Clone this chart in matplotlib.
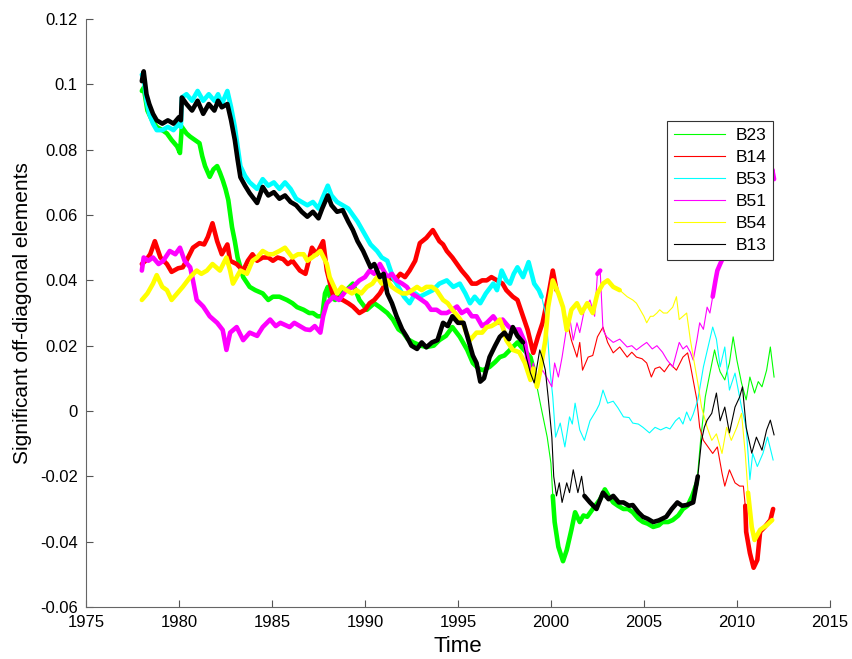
import numpy as np
import matplotlib
matplotlib.use("Agg")
import matplotlib.pyplot as plt
from matplotlib.ticker import FuncFormatter

plt.rcParams["font.family"] = ["Liberation Sans", "DejaVu Sans"]
plt.rcParams["axes.unicode_minus"] = False

# (year, value), one list per coefficient
b23 = [(1978.0, 0.098), (1978.1, 0.099), (1978.3, 0.092), (1978.55, 0.089), (1978.8, 0.087),
       (1979.1, 0.086), (1979.35, 0.085), (1979.6, 0.083), (1979.9, 0.081), (1980.05, 0.079),
       (1980.15, 0.087), (1980.4, 0.085), (1980.6, 0.084), (1980.85, 0.083), (1981.1, 0.082),
       (1981.25, 0.078), (1981.4, 0.075), (1981.65, 0.0717), (1981.85, 0.074), (1982.05, 0.075),
       (1982.2, 0.073), (1982.35, 0.0707), (1982.5, 0.068), (1982.65, 0.0646), (1982.85, 0.0563),
       (1983.0, 0.052), (1983.15, 0.047), (1983.3, 0.044), (1983.45, 0.041), (1983.8, 0.038),
       (1984.1, 0.037), (1984.5, 0.036), (1984.8, 0.034), (1985.05, 0.035), (1985.4, 0.035),
       (1985.8, 0.034), (1986.1, 0.033), (1986.35, 0.0318), (1986.7, 0.031), (1987.0, 0.030),
       (1987.2, 0.030), (1987.45, 0.029), (1987.7, 0.029), (1987.85, 0.036), (1988.0, 0.038),
       (1988.1, 0.035), (1988.4, 0.034), (1988.65, 0.036), (1989.0, 0.037), (1989.35, 0.039),
       (1989.7, 0.034), (1990.1, 0.031), (1990.5, 0.033), (1990.8, 0.0318), (1991.2, 0.030),
       (1991.5, 0.028), (1991.8, 0.025), (1992.05, 0.024), (1992.3, 0.022), (1992.6, 0.021),
       (1993.0, 0.020), (1993.3, 0.0196), (1993.7, 0.020), (1994.0, 0.0217), (1994.35, 0.023),
       (1994.7, 0.0257), (1995.1, 0.0227), (1995.5, 0.0187), (1995.8, 0.0147), (1996.1, 0.013),
       (1996.35, 0.0125), (1996.7, 0.0135), (1997.0, 0.015), (1997.25, 0.0165), (1997.5, 0.017),
       (1997.8, 0.0187), (1998.2, 0.021), (1998.5, 0.019), (1998.9, 0.0165), (1999.1, 0.012),
       (1999.25, 0.0074), (1999.5, 0.0003), (1999.8, -0.008), (2000.0, -0.016), (2000.1, -0.026),
       (2000.2, -0.034), (2000.4, -0.0416), (2000.65, -0.046), (2000.85, -0.0426), (2001.1, -0.0364),
       (2001.3, -0.031), (2001.55, -0.034), (2001.75, -0.032), (2001.95, -0.0324), (2002.25, -0.030),
       (2002.65, -0.027), (2002.9, -0.024), (2003.1, -0.026), (2003.35, -0.028), (2003.6, -0.029),
       (2003.9, -0.030), (2004.15, -0.030), (2004.4, -0.031), (2004.7, -0.033), (2004.95, -0.034),
       (2005.2, -0.0345), (2005.5, -0.0355), (2005.8, -0.035), (2006.0, -0.034), (2006.3, -0.034),
       (2006.55, -0.0334), (2006.85, -0.032), (2007.1, -0.030), (2007.35, -0.029), (2007.6, -0.026),
       (2007.85, -0.022), (2008.05, -0.009), (2008.3, 0.0043), (2008.55, 0.0116), (2008.8, 0.0187),
       (2008.95, 0.015), (2009.1, 0.012), (2009.35, 0.0095), (2009.6, 0.0147), (2009.8, 0.0227),
       (2010.0, 0.0156), (2010.25, 0.0086), (2010.5, 0.0034), (2010.7, 0.0104), (2010.95, 0.0055),
       (2011.15, 0.009), (2011.35, 0.0074), (2011.6, 0.0125), (2011.8, 0.0196), (2012.0, 0.0104)]

b14 = [(1978.0, 0.045), (1978.2, 0.046), (1978.45, 0.048), (1978.7, 0.052), (1979.0, 0.047),
       (1979.35, 0.045), (1979.6, 0.0426), (1979.95, 0.0437), (1980.2, 0.044), (1980.4, 0.046),
       (1980.75, 0.050), (1981.1, 0.0514), (1981.35, 0.051), (1981.55, 0.0533), (1981.8, 0.0575),
       (1982.05, 0.052), (1982.3, 0.048), (1982.6, 0.051), (1982.75, 0.046), (1983.1, 0.045),
       (1983.45, 0.043), (1983.7, 0.046), (1983.95, 0.048), (1984.2, 0.046), (1984.5, 0.047),
       (1984.8, 0.047), (1985.05, 0.046), (1985.3, 0.047), (1985.6, 0.0465), (1985.85, 0.045),
       (1986.1, 0.046), (1986.5, 0.043), (1986.8, 0.042), (1987.15, 0.050), (1987.4, 0.048),
       (1987.75, 0.052), (1987.95, 0.043), (1988.3, 0.035), (1988.8, 0.034), (1989.1, 0.033),
       (1989.35, 0.032), (1989.7, 0.030), (1990.0, 0.031), (1990.25, 0.033), (1990.5, 0.034),
       (1990.8, 0.036), (1991.1, 0.039), (1991.35, 0.041), (1991.6, 0.040), (1991.9, 0.042),
       (1992.15, 0.041), (1992.4, 0.043), (1992.7, 0.046), (1992.95, 0.0514), (1993.3, 0.053),
       (1993.65, 0.0554), (1994.0, 0.052), (1994.2, 0.051), (1994.4, 0.049), (1994.7, 0.047),
       (1994.95, 0.045), (1995.2, 0.043), (1995.5, 0.041), (1995.75, 0.039), (1996.0, 0.039),
       (1996.3, 0.040), (1996.55, 0.040), (1996.8, 0.041), (1997.1, 0.040), (1997.4, 0.039),
       (1997.6, 0.037), (1997.95, 0.035), (1998.2, 0.034), (1998.5, 0.029), (1998.75, 0.0248),
       (1999.05, 0.0178), (1999.3, 0.0227), (1999.55, 0.027), (1999.85, 0.035), (2000.1, 0.043),
       (2000.3, 0.037), (2000.6, 0.0318), (2000.85, 0.028), (2001.1, 0.0217), (2001.4, 0.0165),
       (2001.55, 0.021), (2001.7, 0.0125), (2002.0, 0.0165), (2002.25, 0.017), (2002.5, 0.0227),
       (2002.8, 0.0257), (2003.05, 0.021), (2003.35, 0.0178), (2003.7, 0.0196), (2004.1, 0.0165),
       (2004.35, 0.018), (2004.6, 0.0165), (2004.9, 0.016), (2005.15, 0.0147), (2005.4, 0.0104),
       (2005.6, 0.013), (2005.85, 0.0135), (2006.1, 0.012), (2006.4, 0.0145), (2006.75, 0.0125),
       (2007.1, 0.0165), (2007.35, 0.0178), (2007.5, 0.014), (2007.65, 0.0095), (2007.85, 0.0034),
       (2008.0, -0.005), (2008.2, -0.009), (2008.45, -0.011), (2008.7, -0.013), (2008.95, -0.011),
       (2009.2, -0.019), (2009.35, -0.023), (2009.6, -0.018), (2009.9, -0.022), (2010.15, -0.023),
       (2010.35, -0.023), (2010.45, -0.029), (2010.5, -0.037), (2010.7, -0.0435), (2010.9, -0.048),
       (2011.1, -0.0456), (2011.25, -0.037), (2011.5, -0.0355), (2011.8, -0.0334), (2011.95, -0.030)]

b53 = [(1978.0, 0.103), (1978.1, 0.102), (1978.25, 0.095), (1978.4, 0.091), (1978.6, 0.088),
       (1978.8, 0.086), (1979.1, 0.086), (1979.4, 0.087), (1979.7, 0.086), (1980.0, 0.088),
       (1980.1, 0.087), (1980.15, 0.096), (1980.4, 0.097), (1980.7, 0.095), (1981.0, 0.098),
       (1981.3, 0.095), (1981.6, 0.097), (1981.9, 0.095), (1982.1, 0.097), (1982.3, 0.094),
       (1982.6, 0.098), (1982.8, 0.093), (1983.0, 0.087), (1983.15, 0.081), (1983.3, 0.075),
       (1983.55, 0.072), (1983.8, 0.070), (1984.2, 0.068), (1984.5, 0.071), (1984.8, 0.069),
       (1985.1, 0.070), (1985.4, 0.068), (1985.7, 0.070), (1986.0, 0.068), (1986.3, 0.065),
       (1986.6, 0.064), (1986.9, 0.063), (1987.2, 0.064), (1987.5, 0.062), (1987.7, 0.065),
       (1988.0, 0.069), (1988.2, 0.066), (1988.5, 0.064), (1988.8, 0.063), (1989.1, 0.062),
       (1989.35, 0.060), (1989.6, 0.058), (1989.9, 0.055), (1990.3, 0.051), (1990.65, 0.049),
       (1990.9, 0.047), (1991.2, 0.046), (1991.5, 0.041), (1991.9, 0.037), (1992.1, 0.035),
       (1992.4, 0.033), (1992.7, 0.036), (1992.95, 0.035), (1993.3, 0.036), (1993.65, 0.037),
       (1994.0, 0.039), (1994.4, 0.040), (1994.75, 0.038), (1995.1, 0.039), (1995.4, 0.036),
       (1995.65, 0.033), (1995.9, 0.035), (1996.2, 0.033), (1996.5, 0.036), (1996.9, 0.039),
       (1997.1, 0.037), (1997.35, 0.043), (1997.6, 0.040), (1997.8, 0.039), (1998.0, 0.042),
       (1998.2, 0.044), (1998.5, 0.041), (1998.8, 0.0456), (1999.1, 0.039), (1999.35, 0.037),
       (1999.5, 0.035), (1999.7, 0.030), (1999.8, 0.0248), (1999.95, 0.0125), (2000.1, 0.0043),
       (2000.25, -0.008), (2000.5, -0.0037), (2000.75, -0.011), (2001.0, -0.0018), (2001.15, -0.004),
       (2001.3, 0.0024), (2001.55, -0.0058), (2001.8, -0.009), (2002.1, -0.003), (2002.45, 0.0003),
       (2002.6, 0.002), (2002.8, 0.0064), (2003.05, 0.0024), (2003.35, 0.003), (2003.6, 0.001),
       (2003.9, -0.0018), (2004.2, -0.002), (2004.4, -0.0037), (2004.7, -0.004), (2004.95, -0.005),
       (2005.3, -0.0067), (2005.6, -0.005), (2005.9, -0.0058), (2006.2, -0.005), (2006.4, -0.0055),
       (2006.7, -0.003), (2006.9, -0.002), (2007.1, -0.004), (2007.3, -0.0003), (2007.5, -0.003),
       (2007.65, -0.001), (2007.9, 0.0034), (2008.2, 0.0135), (2008.45, 0.0196), (2008.7, 0.0257),
       (2008.9, 0.022), (2009.1, 0.0135), (2009.35, 0.0196), (2009.6, 0.0064), (2009.9, 0.0116),
       (2010.25, 0.0012), (2010.5, -0.005), (2010.7, -0.021), (2010.85, -0.013), (2011.1, -0.017),
       (2011.4, -0.013), (2011.65, -0.008), (2011.95, -0.015)]

b51 = [(1978.0, 0.043), (1978.1, 0.047), (1978.35, 0.046), (1978.6, 0.047), (1978.9, 0.045),
       (1979.15, 0.046), (1979.5, 0.049), (1979.8, 0.048), (1980.05, 0.050), (1980.3, 0.046),
       (1980.6, 0.044), (1980.75, 0.040), (1980.95, 0.034), (1981.3, 0.032), (1981.65, 0.029),
       (1982.05, 0.027), (1982.35, 0.0248), (1982.55, 0.0187), (1982.75, 0.024), (1983.1, 0.0257),
       (1983.45, 0.0217), (1983.8, 0.024), (1984.2, 0.023), (1984.5, 0.0257), (1984.9, 0.028),
       (1985.2, 0.026), (1985.45, 0.027), (1985.95, 0.0257), (1986.2, 0.027), (1986.5, 0.026),
       (1986.8, 0.025), (1987.05, 0.0248), (1987.3, 0.026), (1987.6, 0.024), (1987.75, 0.029),
       (1987.95, 0.033), (1988.3, 0.035), (1988.6, 0.034), (1989.0, 0.037), (1989.35, 0.038),
       (1989.7, 0.040), (1990.0, 0.041), (1990.25, 0.043), (1990.5, 0.042), (1990.8, 0.045),
       (1991.0, 0.043), (1991.2, 0.041), (1991.45, 0.042), (1991.7, 0.040), (1992.0, 0.039),
       (1992.25, 0.038), (1992.5, 0.036), (1992.8, 0.035), (1993.05, 0.034), (1993.3, 0.033),
       (1993.55, 0.031), (1993.85, 0.031), (1994.1, 0.030), (1994.4, 0.030), (1994.7, 0.031),
       (1994.95, 0.032), (1995.2, 0.030), (1995.5, 0.031), (1995.75, 0.029), (1996.0, 0.029),
       (1996.3, 0.026), (1996.55, 0.027), (1996.9, 0.029), (1997.15, 0.027), (1997.4, 0.028),
       (1997.7, 0.026), (1997.95, 0.0248), (1998.3, 0.025), (1998.6, 0.021), (1998.9, 0.0104),
       (1999.05, 0.0147), (1999.3, 0.0095), (1999.55, 0.0125), (1999.85, 0.0095), (2000.05, 0.0074),
       (2000.2, 0.0147), (2000.4, 0.0104), (2000.6, 0.0165), (2000.85, 0.0257), (2001.0, 0.029),
       (2001.2, 0.0217), (2001.4, 0.027), (2001.55, 0.024), (2001.8, 0.031), (2002.1, 0.034),
       (2002.35, 0.029), (2002.5, 0.042), (2002.65, 0.043), (2002.8, 0.0248), (2003.0, 0.0227),
       (2003.35, 0.021), (2003.7, 0.022), (2004.1, 0.0196), (2004.35, 0.020), (2004.6, 0.0187),
       (2004.9, 0.020), (2005.15, 0.021), (2005.45, 0.019), (2005.7, 0.020), (2006.0, 0.018),
       (2006.25, 0.0156), (2006.55, 0.0135), (2006.9, 0.021), (2007.1, 0.019), (2007.3, 0.020),
       (2007.5, 0.018), (2007.65, 0.0156), (2007.85, 0.0217), (2008.0, 0.027), (2008.2, 0.025),
       (2008.4, 0.0318), (2008.55, 0.030), (2008.7, 0.035), (2008.85, 0.040), (2008.95, 0.043),
       (2009.1, 0.045), (2009.5, 0.050), (2010.0, 0.055), (2010.5, 0.060), (2011.0, 0.063),
       (2011.5, 0.066), (2011.8, 0.068), (2011.9, 0.074), (2012.0, 0.071)]

b54 = [(1978.0, 0.034), (1978.3, 0.036), (1978.6, 0.039), (1978.8, 0.0416), (1979.1, 0.038),
       (1979.35, 0.037), (1979.6, 0.034), (1979.9, 0.036), (1980.2, 0.038), (1980.6, 0.041),
       (1980.95, 0.043), (1981.2, 0.042), (1981.5, 0.043), (1981.8, 0.045), (1982.2, 0.043),
       (1982.55, 0.047), (1982.75, 0.043), (1982.9, 0.039), (1983.3, 0.043), (1983.65, 0.042),
       (1983.95, 0.046), (1984.2, 0.047), (1984.5, 0.049), (1984.8, 0.048), (1985.05, 0.048),
       (1985.4, 0.049), (1985.7, 0.050), (1986.1, 0.047), (1986.4, 0.048), (1986.7, 0.048),
       (1986.9, 0.046), (1987.15, 0.047), (1987.4, 0.048), (1987.6, 0.049), (1987.95, 0.045),
       (1988.1, 0.041), (1988.5, 0.036), (1988.75, 0.038), (1989.0, 0.037), (1989.3, 0.036),
       (1989.55, 0.037), (1989.8, 0.036), (1990.1, 0.038), (1990.4, 0.039), (1990.65, 0.041),
       (1990.9, 0.039), (1991.2, 0.040), (1991.45, 0.038), (1991.7, 0.037), (1992.0, 0.036),
       (1992.25, 0.036), (1992.55, 0.037), (1992.8, 0.038), (1993.05, 0.037), (1993.3, 0.038),
       (1993.6, 0.038), (1993.85, 0.037), (1994.2, 0.034), (1994.45, 0.033), (1994.7, 0.031),
       (1995.0, 0.029), (1995.25, 0.027), (1995.45, 0.024), (1995.65, 0.0217), (1996.0, 0.024),
       (1996.3, 0.024), (1996.55, 0.0257), (1996.8, 0.026), (1997.1, 0.027), (1997.25, 0.028),
       (1997.45, 0.025), (1997.6, 0.0217), (1997.95, 0.0187), (1998.3, 0.018), (1998.6, 0.0147),
       (1998.9, 0.0095), (1999.05, 0.013), (1999.25, 0.0074), (1999.4, 0.0116), (1999.7, 0.0217),
       (1999.85, 0.0318), (2000.1, 0.040), (2000.4, 0.036), (2000.65, 0.0318), (2000.85, 0.0248),
       (2001.1, 0.031), (2001.4, 0.033), (2001.65, 0.030), (2001.95, 0.033), (2002.25, 0.030),
       (2002.5, 0.036), (2002.8, 0.039), (2003.05, 0.040), (2003.35, 0.038), (2003.7, 0.037),
       (2004.1, 0.035), (2004.4, 0.034), (2004.6, 0.033), (2004.8, 0.031), (2005.0, 0.029),
       (2005.15, 0.027), (2005.35, 0.029), (2005.5, 0.029), (2005.7, 0.030), (2005.85, 0.031),
       (2006.05, 0.030), (2006.25, 0.030), (2006.55, 0.0318), (2006.75, 0.035), (2006.9, 0.028),
       (2007.1, 0.029), (2007.3, 0.030), (2007.5, 0.0217), (2007.75, 0.0135), (2007.9, 0.0086),
       (2008.1, 0.0012), (2008.4, -0.005), (2008.65, -0.009), (2008.9, -0.007), (2009.2, -0.013),
       (2009.45, -0.005), (2009.7, -0.009), (2010.0, -0.005), (2010.25, -0.0007), (2010.45, -0.013),
       (2010.6, -0.025), (2010.8, -0.0355), (2010.95, -0.0395), (2011.25, -0.0364), (2011.6, -0.035),
       (2011.9, -0.0334)]

b13 = [(1978.0, 0.101), (1978.1, 0.104), (1978.25, 0.097), (1978.4, 0.094), (1978.6, 0.091),
       (1978.8, 0.089), (1979.1, 0.088), (1979.4, 0.089), (1979.7, 0.088), (1980.0, 0.090),
       (1980.1, 0.089), (1980.15, 0.096), (1980.4, 0.094), (1980.7, 0.092), (1981.0, 0.095),
       (1981.3, 0.091), (1981.6, 0.094), (1981.9, 0.092), (1982.1, 0.095), (1982.3, 0.093),
       (1982.6, 0.094), (1982.8, 0.089), (1983.0, 0.083), (1983.15, 0.077), (1983.3, 0.0716),
       (1983.55, 0.069), (1983.8, 0.0667), (1984.2, 0.0637), (1984.5, 0.0686), (1984.8, 0.066),
       (1985.1, 0.067), (1985.4, 0.065), (1985.7, 0.066), (1986.0, 0.064), (1986.3, 0.063),
       (1986.6, 0.061), (1986.9, 0.0595), (1987.2, 0.061), (1987.5, 0.059), (1987.7, 0.062),
       (1988.0, 0.066), (1988.2, 0.063), (1988.5, 0.061), (1988.8, 0.0615), (1989.1, 0.058),
       (1989.35, 0.0554), (1989.6, 0.052), (1989.9, 0.049), (1990.3, 0.044), (1990.5, 0.045),
       (1990.8, 0.041), (1991.0, 0.042), (1991.2, 0.036), (1991.45, 0.033), (1991.7, 0.029),
       (1992.0, 0.025), (1992.25, 0.0227), (1992.5, 0.020), (1992.8, 0.019), (1993.05, 0.021),
       (1993.3, 0.0195), (1993.6, 0.021), (1993.9, 0.0217), (1994.2, 0.027), (1994.45, 0.026),
       (1994.7, 0.029), (1995.0, 0.027), (1995.3, 0.027), (1995.6, 0.021), (1995.8, 0.017),
       (1996.0, 0.0147), (1996.2, 0.009), (1996.4, 0.010), (1996.7, 0.0165), (1997.0, 0.020),
       (1997.25, 0.0227), (1997.5, 0.024), (1997.75, 0.022), (1997.95, 0.0257), (1998.2, 0.023),
       (1998.5, 0.021), (1998.7, 0.016), (1998.9, 0.0116), (1999.1, 0.0086), (1999.4, 0.0187),
       (1999.55, 0.016), (1999.7, 0.0125), (1999.85, 0.0043), (2000.05, -0.008), (2000.15, -0.020),
       (2000.3, -0.026), (2000.45, -0.022), (2000.6, -0.028), (2000.85, -0.022), (2001.0, -0.025),
       (2001.2, -0.018), (2001.45, -0.025), (2001.65, -0.020), (2001.8, -0.026), (2002.1, -0.028),
       (2002.45, -0.030), (2002.8, -0.025), (2003.1, -0.027), (2003.35, -0.026), (2003.65, -0.028),
       (2003.9, -0.028), (2004.2, -0.029), (2004.4, -0.0288), (2004.7, -0.031), (2004.95, -0.0324),
       (2005.2, -0.033), (2005.5, -0.034), (2005.8, -0.0335), (2006.2, -0.0324), (2006.5, -0.030),
       (2006.8, -0.028), (2007.05, -0.029), (2007.3, -0.0288), (2007.65, -0.028), (2007.9, -0.020),
       (2008.1, -0.009), (2008.25, -0.005), (2008.4, -0.0028), (2008.65, -0.0007), (2008.9, 0.0055),
       (2009.1, -0.003), (2009.35, 0.0012), (2009.6, -0.0067), (2009.9, 0.0012), (2010.15, 0.0043),
       (2010.3, 0.0074), (2010.5, -0.005), (2010.8, -0.0129), (2011.05, -0.008), (2011.35, -0.012),
       (2011.6, -0.0058), (2011.8, -0.0028), (2012.0, -0.0073)]

# periods where the coefficient is significant (drawn heavy)
b23_sig = [(1978.0, 1999.2), (2000.1, 2007.9)]
b14_sig = [(1978.0, 2000.3), (2010.45, 2012.0)]
b53_sig = [(1978.0, 1999.6)]
b51_sig = [(1978.0, 1998.9), (2002.45, 2002.7), (2008.7, 2012.0)]
b54_sig = [(1978.0, 2003.8), (2010.5, 2012.0)]
b13_sig = [(1978.0, 1998.6), (2001.7, 2007.9)]

labels = ["B23", "B14", "B53", "B51", "B54", "B13"]
colors = ["#00ff00", "#ff0000", "#00ffff", "#ff00ff", "#ffff00", "#000000"]
data = [b23, b14, b53, b51, b54, b13]
sigs = [b23_sig, b14_sig, b53_sig, b51_sig, b54_sig, b13_sig]


def heavy_part(t, v, spans):
    keep = np.zeros(len(t), dtype=bool)
    for a, b in spans:
        keep |= (t >= a) & (t <= b)
    return np.where(keep, v, np.nan)


fig = plt.figure(figsize=(8.52, 6.59), dpi=100)
ax = fig.add_axes([0.101, 0.079, 0.873, 0.892])

handles = []
for lab, col, d, sp in zip(labels, colors, data, sigs):
    arr = np.array(d)
    t, v = arr[:, 0], arr[:, 1]
    line, = ax.plot(t, v, color=col, lw=0.8, label=lab)
    ax.plot(t, heavy_part(t, v, sp), color=col, lw=3.3,
            solid_joinstyle="round", solid_capstyle="round")
    handles.append(line)

ax.set_xlim(1975, 2015)
ax.set_ylim(-0.06, 0.12)
ax.set_xticks(np.arange(1975, 2016, 5))
ax.set_yticks(np.arange(-0.06, 0.1201, 0.02))
ax.yaxis.set_major_formatter(FuncFormatter(lambda y, _: "%g" % round(y, 2)))
ax.tick_params(direction="in", length=5, labelsize=12, color="#555555", pad=6)

for side in ["top", "right"]:
    ax.spines[side].set_visible(False)
for side in ["left", "bottom"]:
    ax.spines[side].set_color("#666666")

ax.set_xlabel("Time", fontsize=16, labelpad=4)
ax.set_ylabel("Significant off-diagonal elements", fontsize=15, labelpad=6)

leg = ax.legend(handles=handles, loc="upper left", bbox_to_anchor=(0.770, 0.842),
                fontsize=12.5, frameon=True, fancybox=False, handlelength=2.9,
                labelspacing=0.4, borderpad=0.4, handletextpad=0.6)
leg.get_frame().set_edgecolor("#333333")
leg.get_frame().set_linewidth(0.8)
leg.get_frame().set_alpha(1.0)

fig.savefig("out.png", dpi=100)
